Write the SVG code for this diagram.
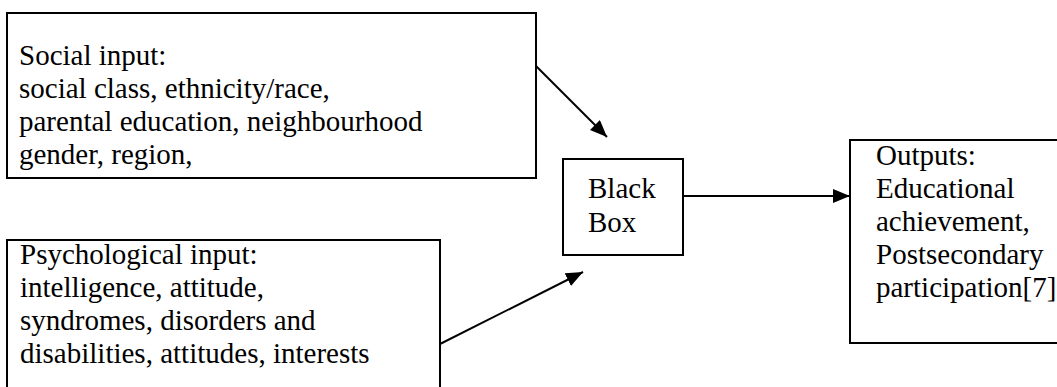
<svg xmlns="http://www.w3.org/2000/svg" width="1057" height="387" viewBox="0 0 1057 387">
  <defs>
    <style>
      .box { fill: #ffffff; stroke: #000000; stroke-width: 2; }
      .lbl { font-family: "Liberation Serif", "Times New Roman", serif; font-size: 29px; fill: #000000; }
      .conn { stroke: #000000; stroke-width: 2; fill: none; }
    </style>
    <marker id="arrow" markerUnits="userSpaceOnUse" markerWidth="18" markerHeight="15" refX="17" refY="7" orient="auto">
      <path d="M0,0 L17,7 L0,14 Z" fill="#000000"/>
    </marker>
  </defs>
  <rect width="1057" height="387" fill="#ffffff"/>

  <g id="social-input">
    <rect class="box" x="7" y="13" width="529" height="165"/>
    <text class="lbl" x="19" y="65">Social input:</text>
    <text class="lbl" x="19" y="98">social class, ethnicity/race,</text>
    <text class="lbl" x="19" y="131">parental education, neighbourhood</text>
    <text class="lbl" x="19" y="164">gender, region,</text>
  </g>

  <g id="psychological-input">
    <rect class="box" x="7" y="240" width="433" height="160"/>
    <text class="lbl" x="20" y="264">Psychological input:</text>
    <text class="lbl" x="20" y="297">intelligence, attitude,</text>
    <text class="lbl" x="20" y="330">syndromes, disorders and</text>
    <text class="lbl" x="20" y="363">disabilities, attitudes, interests</text>
  </g>

  <g id="black-box">
    <rect class="box" x="563" y="159" width="120" height="96"/>
    <text class="lbl" x="588" y="198">Black</text>
    <text class="lbl" x="588" y="232">Box</text>
  </g>

  <g id="outputs">
    <rect class="box" x="850" y="140" width="220" height="203"/>
    <text class="lbl" x="876" y="164.5">Outputs:</text>
    <text class="lbl" x="876" y="197.5">Educational</text>
    <text class="lbl" x="876" y="230.5">achievement,</text>
    <text class="lbl" x="876" y="263.5">Postsecondary</text>
    <text class="lbl" x="876" y="296.5">participation[7]</text>
  </g>

  <g id="connectors">
    <line class="conn" x1="536" y1="66" x2="607" y2="137" marker-end="url(#arrow)"/>
    <line class="conn" x1="440" y1="344" x2="583" y2="272" marker-end="url(#arrow)"/>
    <line class="conn" x1="683" y1="196" x2="850" y2="196" marker-end="url(#arrow)"/>
  </g>
</svg>
